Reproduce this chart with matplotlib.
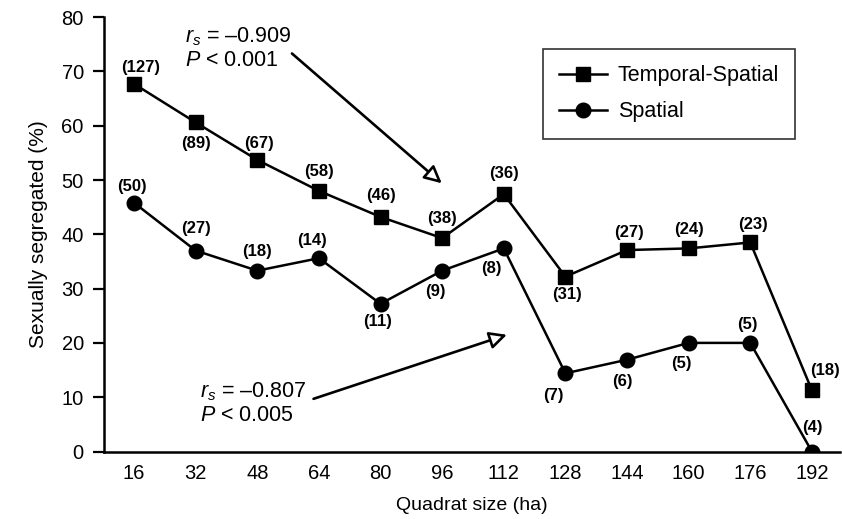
import numpy as np
import matplotlib
matplotlib.use('Agg')
import matplotlib.pyplot as plt

plt.rcParams.update({
    'font.family': 'Liberation Sans',
    'font.size': 14,
    'mathtext.fontset': 'custom',
    'mathtext.rm': 'Liberation Sans',
    'mathtext.it': 'Liberation Sans:italic',
})

# data
quadrat_size = [16, 32, 48, 64, 80, 96, 112, 128, 144, 160, 176, 192]
temporal_spatial = [67.7, 60.6, 53.7, 48.0, 43.2, 39.3, 47.4, 32.2, 37.1, 37.4, 38.5, 11.3]
spatial = [45.8, 37.0, 33.3, 35.6, 27.2, 33.3, 37.4, 14.4, 16.9, 20.0, 20.0, 0.0]
ts_n = [127, 89, 67, 58, 46, 38, 36, 31, 27, 24, 23, 18]
sp_n = [50, 27, 18, 14, 11, 9, 8, 7, 6, 5, 5, 4]

# label offsets in pixels (dx, dy), positive dy = up
ts_off = [(7, 16), (0, -21), (2, 16), (0, 19), (0, 21), (0, 20), (0, 21),
          (2, -18), (2, 18), (0, 19), (3, 18), (13, 20)]
sp_off = [(-2, 16), (0, 22), (0, 19), (-7, 18), (-3, -18), (-7, -21), (-12, -20),
          (-12, -22), (-5, -22), (-7, -21), (-3, 18), (0, 24)]

fig = plt.figure(figsize=(8.42, 5.19), dpi=100)
ax = fig.add_axes([104 / 842, 67.5 / 519, 736 / 842, 434.4 / 519])

ax.plot(quadrat_size, temporal_spatial, color='black', lw=1.8, marker='s',
        markersize=9.5, label='Temporal-Spatial')
ax.plot(quadrat_size, spatial, color='black', lw=1.8, marker='o',
        markersize=10.5, label='Spatial')

for x, y, n, (dx, dy) in zip(quadrat_size, temporal_spatial, ts_n, ts_off):
    ax.annotate(f'({n})', (x, y), xytext=(dx, dy), textcoords='offset pixels',
                ha='center', va='center', fontsize=12, fontweight='bold')
for x, y, n, (dx, dy) in zip(quadrat_size, spatial, sp_n, sp_off):
    ax.annotate(f'({n})', (x, y), xytext=(dx, dy), textcoords='offset pixels',
                ha='center', va='center', fontsize=12, fontweight='bold')

# correlation notes with open-headed arrows
arrow = dict(arrowstyle='-|>', fc='white', ec='black', lw=1.9, mutation_scale=26,
             shrinkA=0, shrinkB=0)
ax.annotate('', xy=(95.9, 49.4), xytext=(57.0, 73.3), arrowprops=arrow)
ax.annotate('', xy=(112.8, 21.5), xytext=(62.6, 9.7), arrowprops=arrow)
ax.text(29.2, 76.3, r'$r_s$ = –0.909', ha='left', va='center', fontsize=15.5)
ax.text(29.2, 72.0, r'$P$ < 0.001', ha='left', va='center', fontsize=15.5)
ax.text(33.1, 11.0, r'$r_s$ = –0.807', ha='left', va='center', fontsize=15.5)
ax.text(33.1, 6.7, r'$P$ < 0.005', ha='left', va='center', fontsize=15.5)

ax.set_xlim(8.2, 199.3)
ax.set_ylim(0, 80)
ax.set_xticks(quadrat_size)
ax.set_yticks(np.arange(0, 81, 10))
ax.tick_params(axis='x', length=0, pad=9, labelsize=14.5)
ax.tick_params(axis='y', length=8, width=1.6, pad=6.5, labelsize=14.5)
for side in ['top', 'right']:
    ax.spines[side].set_visible(False)
for side in ['left', 'bottom']:
    ax.spines[side].set_linewidth(1.8)

ax.set_xlabel('Quadrat size (ha)', fontsize=14, labelpad=10)
ax.set_ylabel('Sexually segregated (%)', fontsize=15, labelpad=10)

leg = ax.legend(loc='upper right', bbox_to_anchor=(0.939, 0.926), fontsize=15.5,
                frameon=True, fancybox=False, edgecolor='black', borderpad=0.75,
                borderaxespad=0, handlelength=2.2, handletextpad=0.5,
                labelspacing=0.7)
leg.get_frame().set_linewidth(1.2)

fig.savefig('out.png', dpi=100)
